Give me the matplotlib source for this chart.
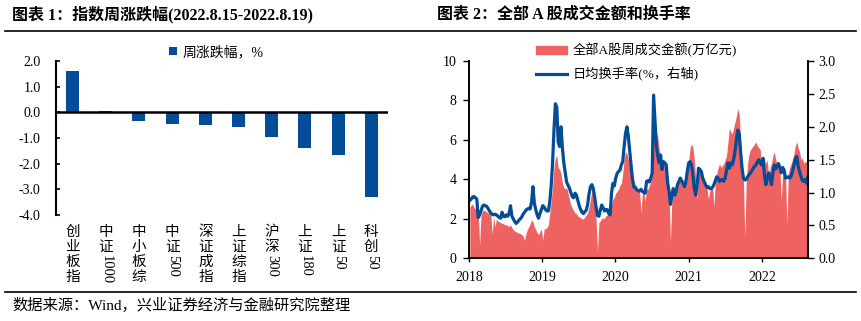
import matplotlib
matplotlib.use('Agg')
import matplotlib.pyplot as plt
from matplotlib.lines import Line2D
from matplotlib.patches import Patch
import pandas as pd

plt.rcParams['font.family'] = ['Liberation Serif', 'Noto Sans CJK SC']
plt.rcParams['axes.unicode_minus'] = False

BLUE = '#024C98'
RED = '#EE6262'

# chart 1: weekly change of major indices, %
index_names = ['创业板指', '中证1000', '中小板综', '中证500', '深证成指',
               '上证综指', '沪深300', '上证180', '上证50', '科创50']
weekly_change = [1.61, 0.05, -0.32, -0.44, -0.49, -0.57, -0.96, -1.38, -1.65, -3.29]
change_ticks = [2.0, 1.0, 0.0, -1.0, -2.0, -3.0, -4.0]

# chart 2: weekly A-share turnover (trillion yuan) and daily avg turnover rate (%)
amount_2018 = [2.6, 2.7, 2.75, 2.6, 2.5, 2.4, 2.3, 0.7, 2.2, 2.4,
               2.45, 2.4, 2.35, 2.3, 2.3, 2.2, 1.2, 2.1, 1.6, 2.0,
               1.9, 1.85, 1.8, 1.78, 1.75, 1.7, 1.7, 1.65, 1.6, 1.7,
               1.55, 1.45, 1.38, 1.35, 1.3, 1.28, 1.25, 1.2, 1.15, 0.9,
               1.25, 1.45, 1.6, 1.75, 1.95, 1.85, 1.6, 1.45, 1.3, 1.2,
               1.35, 1.5]
amount_2019 = [0.9, 1.5, 1.5, 1.55, 1.7, 2.3, 2.9, 3.6, 4.6, 5.1,
               5.2, 4.6, 4.5, 4.3, 3.8, 3.6, 3.5, 3.6, 3.3, 3.0,
               2.7, 2.55, 2.4, 2.3, 2.25, 2.15, 2.1, 2.05, 2.0, 2.0,
               2.1, 2.2, 2.3, 2.6, 3.0, 3.4, 3.3, 2.6, 2.0, 0.35,
               1.8, 1.9, 2.05, 2.0, 2.05, 2.15, 2.2, 2.3, 2.4, 2.7,
               3.0, 3.1]
amount_2020 = [3.3, 3.4, 3.5, 3.7, 3.8, 4.3, 5.0, 5.4, 5.3, 5.0,
               4.8, 4.7, 4.2, 3.9, 3.6, 3.5, 3.5, 3.4, 2.3, 3.3,
               3.4, 2.9, 3.5, 3.5, 3.7, 3.9, 4.6, 6.2, 6.4, 6.4,
               6.1, 5.5, 5.2, 5.0, 4.8, 4.6, 4.4, 3.8, 3.4, 0.8,
               3.0, 3.2, 3.5, 3.6, 3.8, 3.9, 4.0, 4.0, 3.9, 3.9,
               4.1, 4.5]
amount_2021 = [4.9, 5.6, 5.8, 5.6, 5.0, 4.0, 3.0, 4.2, 4.5, 4.3,
               4.1, 3.9, 3.8, 3.6, 3.0, 3.4, 3.6, 3.7, 2.6, 3.9,
               4.3, 4.6, 4.8, 4.6, 4.7, 4.8, 5.0, 5.2, 5.9, 6.6,
               6.4, 6.3, 6.6, 6.9, 7.2, 7.6, 7.3, 6.0, 4.8, 4.0,
               1.0, 3.9, 4.8, 5.3, 5.5, 5.6, 5.7, 5.8, 5.9, 5.7,
               5.6, 5.5]
amount_2022 = [4.6, 5.2, 5.0, 4.8, 5.0, 4.0, 4.6, 4.8, 5.2, 5.4,
               5.0, 4.8, 4.6, 4.5, 2.9, 4.5, 4.4, 4.2, 1.7, 4.3,
               4.6, 4.8, 5.0, 5.3, 5.7, 5.9, 5.6, 5.4, 5.0, 5.1,
               4.8, 4.9, 4.9, 5.1]

rate_2018 = [0.88, 0.90, 0.93, 0.94, 0.92, 0.90, 0.62, 0.66, 0.72, 0.79,
             0.81, 0.80, 0.79, 0.76, 0.72, 0.69, 0.67, 0.66, 0.67, 0.66,
             0.64, 0.62, 0.61, 0.70, 0.64, 0.63, 0.66, 0.64, 0.68, 0.80,
             0.64, 0.60, 0.56, 0.53, 0.55, 0.58, 0.60, 0.63, 0.67, 0.70,
             0.73, 0.75, 0.76, 0.75, 0.85, 1.09, 0.84, 0.74, 0.66, 0.61,
             0.68, 0.74]
rate_2019 = [0.80, 0.78, 0.74, 0.72, 0.72, 0.86, 1.10, 1.45, 1.95, 2.35,
             2.30, 1.77, 1.70, 2.00, 1.68, 1.45, 1.30, 1.16, 1.11, 1.07,
             1.00, 0.94, 0.92, 0.99, 0.96, 0.88, 0.80, 0.74, 0.70, 0.68,
             0.71, 0.73, 0.82, 0.98, 1.09, 1.12, 1.06, 0.93, 0.78, 0.65,
             0.64, 0.73, 0.81, 0.77, 0.72, 0.74, 0.74, 0.68, 0.66, 0.99,
             1.14, 1.10]
rate_2020 = [1.22, 1.29, 1.32, 1.34, 1.42, 1.47, 1.70, 1.90, 2.00, 1.85,
             1.62, 1.40, 1.20, 1.08, 1.08, 1.04, 1.03, 1.02, 1.05, 1.02,
             1.00, 0.99, 1.17, 1.18, 1.16, 1.22, 1.30, 2.48, 2.10, 1.70,
             1.55, 1.45, 1.57, 1.35, 1.47, 1.45, 1.42, 1.15, 1.02, 0.82,
             0.95, 1.06, 0.96, 1.01, 1.12, 1.17, 1.22, 1.18, 1.14, 1.09,
             1.17, 1.32]
rate_2021 = [1.45, 1.47, 1.42, 1.27, 1.06, 0.96, 1.10, 1.37, 1.35, 1.32,
             1.22, 1.17, 1.12, 1.08, 1.09, 1.06, 1.06, 1.08, 1.12, 1.18,
             1.24, 1.22, 1.17, 1.19, 1.20, 1.17, 1.22, 1.34, 1.45, 1.37,
             1.45, 1.42, 1.50, 1.62, 1.80, 1.95, 1.90, 1.62, 1.38, 1.22,
             1.19, 1.20, 1.24, 1.27, 1.30, 1.33, 1.37, 1.40, 1.42, 1.47,
             1.50, 1.45]
rate_2022 = [1.42, 1.52, 1.27, 1.12, 1.22, 1.30, 1.22, 1.12, 1.30, 1.42,
             1.36, 1.40, 1.44, 1.38, 1.30, 1.38, 1.34, 1.22, 1.23, 1.24,
             1.22, 1.25, 1.32, 1.42, 1.52, 1.55, 1.40, 1.32, 1.25, 1.18,
             1.17, 1.20, 1.14, 1.24]

years = [2018, 2019, 2020, 2021, 2022]

amount = amount_2018 + amount_2019 + amount_2020 + amount_2021 + amount_2022
rate = rate_2018 + rate_2019 + rate_2020 + rate_2021 + rate_2022
week_end = pd.date_range('2018-01-05', periods=len(amount), freq='7D')

fig = plt.figure(figsize=(8.61, 3.21), dpi=100)

# ---- left: bar chart
ax1 = fig.add_axes([0.065, 0.330, 0.3856, 0.480])
pos = range(len(index_names))
ax1.bar(pos, weekly_change, width=0.39, color=BLUE, label='周涨跌幅，%', zorder=2)
ax1.axhline(0, color='black', lw=1.8, zorder=3)
ax1.set_xlim(-0.5, len(index_names) - 0.5)
ax1.set_ylim(-4, 2)
ax1.set_yticks(change_ticks)
ax1.set_yticklabels(['%.1f' % v for v in change_ticks])
ax1.set_xticks([])
for s in ['top', 'right', 'bottom']:
    ax1.spines[s].set_visible(False)
ax1.spines['left'].set_linewidth(1.5)
ax1.tick_params(axis='y', direction='in', length=3, width=1.2, pad=11, labelsize=10)

# vertical category labels: CJK upright, digits turned
for i, name in enumerate(index_names):
    head = name.rstrip('0123456789')
    digits = name[len(head):]
    for k, ch in enumerate(head):
        ax1.annotate(ch, xy=(i, 0), xycoords=('data', 'axes fraction'),
                     xytext=(0, -12.2 - 10.8 * k), textcoords='offset points',
                     ha='center', va='center', fontsize=10.5)
    if digits:
        ax1.annotate(digits, xy=(i, 0), xycoords=('data', 'axes fraction'),
                     xytext=(0, -12.2 - 10.8 * (len(head) - 1) - 5.6),
                     textcoords='offset points', rotation=-90,
                     ha='center', va='top', fontsize=10.5)

ax1.legend(loc='center left', bbox_to_anchor=(0.196, 0.838), bbox_transform=fig.transFigure,
           frameon=False, fontsize=10, handlelength=0.6, handleheight=0.6,
           handletextpad=0.4, borderpad=0, borderaxespad=0)

# ---- right: turnover area + turnover-rate line
ax2 = fig.add_axes([0.5447, 0.1953, 0.3937, 0.6147])
ax2.fill_between(week_end, 0, amount, color=RED, lw=0)
ax2.set_ylim(0, 10)
ax2.set_yticks([0, 2, 4, 6, 8, 10])
ax2.set_xlim(pd.Timestamp('2018-01-01'), week_end[-1])
ax2.set_xticks([pd.Timestamp('%d-01-01' % y) for y in years])
ax2.set_xticklabels([str(y) for y in years])
ax2.tick_params(axis='y', direction='out', length=4, width=1, pad=5, labelsize=10)
ax2.tick_params(axis='x', direction='out', length=3, width=1, pad=6, labelsize=10)

ax3 = ax2.twinx()
ax3.plot(week_end, rate, color=BLUE, lw=2.3)
ax3.set_ylim(0, 3)
ax3.set_yticks([0, 0.5, 1.0, 1.5, 2.0, 2.5, 3.0])
ax3.set_yticklabels(['%.1f' % v for v in [0, 0.5, 1.0, 1.5, 2.0, 2.5, 3.0]])
ax3.tick_params(axis='y', direction='out', length=4, width=1, pad=3.5, labelsize=10)

for a in (ax2, ax3):
    a.spines['top'].set_visible(False)
    for s in ['left', 'right', 'bottom']:
        a.spines[s].set_linewidth(1.2)

handles = [Patch(color=RED, label='全部A股周成交金额(万亿元)'),
           Line2D([], [], color=BLUE, lw=2.3, label='日均换手率(%，右轴)')]
ax3.legend(handles=handles, loc='upper left', bbox_to_anchor=(0.6225, 0.866),
           bbox_transform=fig.transFigure, frameon=False, fontsize=9.5,
           handlelength=2.35, handleheight=0.6, handletextpad=0.4,
           labelspacing=0.75, borderpad=0, borderaxespad=0)

# ---- titles, rules, source
fig.text(12 / 861, 1 - 15 / 321, '图表 1：指数周涨跌幅(2022.8.15-2022.8.19)',
         fontsize=11.5, fontweight='bold', ha='left', va='center')
fig.text(437 / 861, 1 - 15 / 321, '图表 2：全部 A 股成交金额和换手率',
         fontsize=11.5, fontweight='bold', ha='left', va='center')
fig.add_artist(Line2D([5 / 861, 856 / 861], [1 - 31 / 321] * 2, color='black', lw=1.2))
fig.add_artist(Line2D([5 / 861, 856 / 861], [1 - 292 / 321] * 2, color='black', lw=1.2))
fig.text(12 / 861, 1 - 305 / 321, '数据来源：Wind，兴业证券经济与金融研究院整理',
         fontsize=11, ha='left', va='center')

fig.savefig('out.png', dpi=100)
